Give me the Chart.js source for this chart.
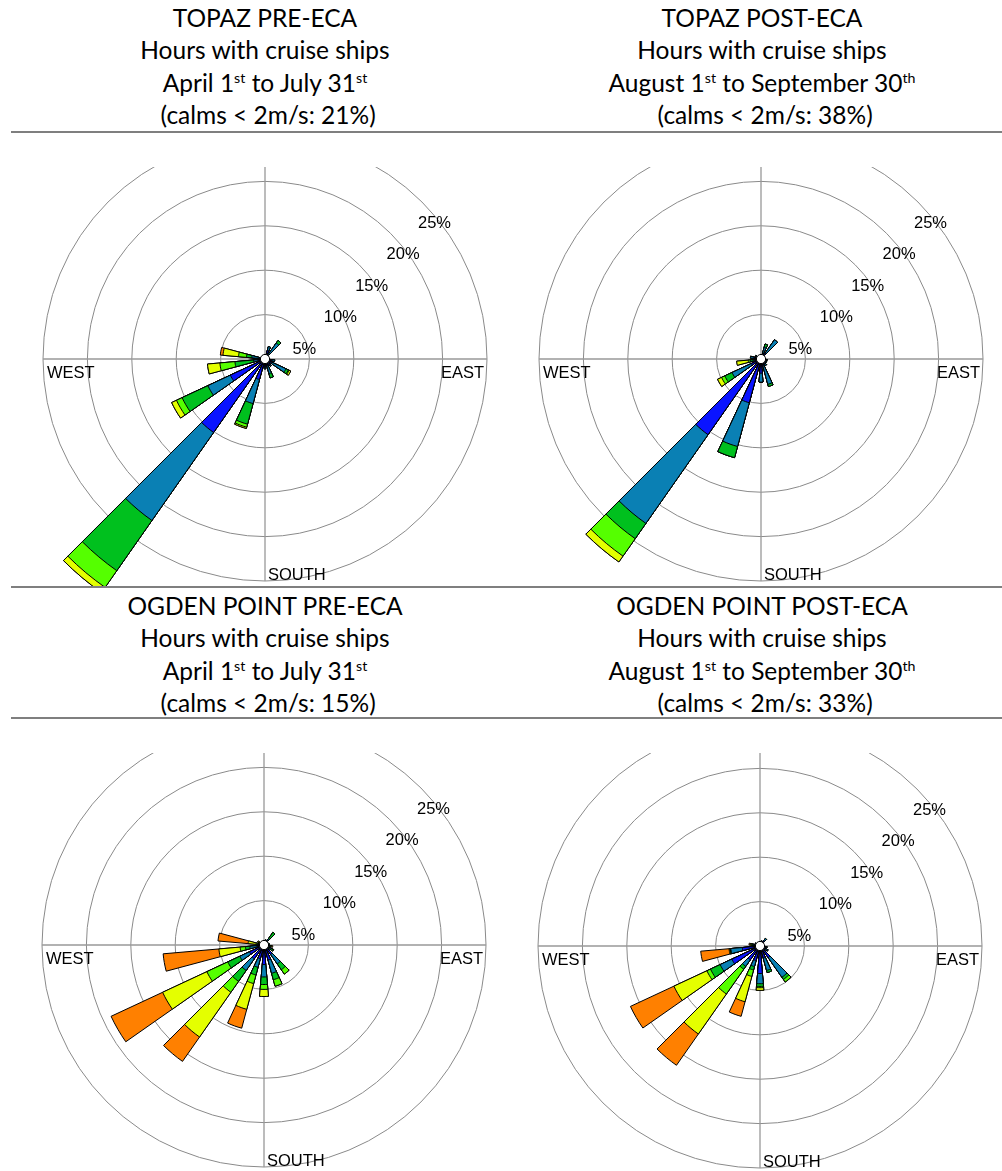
<!DOCTYPE html>
<html>
<head>
<meta charset="utf-8">
<title>Wind roses – Topaz and Ogden Point</title>
<script src="https://cdn.jsdelivr.net/npm/chart.js@4.4.1/dist/chart.umd.min.js"></script>
<style>
  html, body { margin: 0; padding: 0; background: #fff; }
  body { position: relative; width: 1002px; height: 1171px; overflow: hidden; }
  .title {
    position: absolute; width: 500px; text-align: center;
    font-family: Lato, "Open Sans", sans-serif; font-size: 24.5px; line-height: 32.3px; color: #000;
    white-space: nowrap;
  }
  .title sup { font-size: 58%; vertical-align: 0; position: relative; top: -0.62em; line-height: 0; }
  .rule { position: absolute; left: 11px; width: 991px; height: 2px; background: #7f7f7f; }
  .clip { position: absolute; width: 501px; overflow: hidden; }
  .clip canvas { position: absolute; }
</style>
</head>
<body>
<div id="page"></div>
<script>
// ---- wind directions (degrees, blowing from) ----
const directions = [0, 20, 40, 60, 80, 100, 120, 140, 160, 180, 200, 220, 240, 260, 280, 300, 320, 340];

// ---- ring values (%) and compass labels ----
const ringValues = [5, 10, 15, 20, 25];
const compassLabels = ['WEST', 'EAST', 'SOUTH'];

// ---- titles ----
const siteNames = ['TOPAZ PRE-ECA', 'TOPAZ POST-ECA', 'OGDEN POINT PRE-ECA', 'OGDEN POINT POST-ECA'];
const subTitle = 'Hours with cruise ships';
const periods = ['April 1<sup>st</sup> to July 31<sup>st</sup>',
                 'August 1<sup>st</sup> to September 30<sup>th</sup>',
                 'April 1<sup>st</sup> to July 31<sup>st</sup>',
                 'August 1<sup>st</sup> to September 30<sup>th</sup>'];
const calmsPct = [21, 38, 15, 33];

// ---- frequency (%) per wind-speed class, one row per class (lowest speed first),
//      one column per direction in `directions` ----
const topazPre = [
  [0, 1.0, 0.3, 0, 0, 0.8, 0.8, 0.8, 0.8, 0.9, 2.4, 10.1, 4.3, 0.8, 0.6, 0, 0, 0],
  [0, 0.45, 1.9, 0, 0, 0.3, 1.8, 0.2, 0.9, 0.2, 2.8, 12.1, 2.8, 0.5, 0.9, 0, 0, 0],
  [0, 0, 0.35, 0, 0, 0, 0.3, 0, 0.5, 0, 2.4, 6.9, 3.2, 2.1, 0.6, 0, 0, 0],
  [0, 0, 0, 0, 0, 0, 0.1, 0, 0, 0, 0.35, 2.3, 0.7, 1.7, 0.9, 0, 0, 0],
  [0, 0, 0, 0, 0, 0, 0.2, 0, 0, 0, 0.15, 0.7, 0.6, 1.4, 1.75, 0, 0, 0],
  [0, 0, 0, 0, 0, 0, 0, 0, 0, 0, 0, 0, 0, 0, 0.3, 0, 0, 0]
];
const topazPost = [
  [0, 0.5, 0.8, 0, 0, 0.5, 0.5, 0.6, 0.8, 1.6, 5.1, 10.4, 1.2, 0.5, 0.8, 0.5, 0, 0],
  [0, 0.9, 1.85, 0, 0, 0.2, 0.2, 0.3, 2.15, 1.0, 5.1, 12.2, 2.4, 0.4, 0.4, 0.2, 0, 0],
  [0, 0.35, 0, 0, 0, 0, 0, 0, 0.25, 0, 1.3, 2.1, 0.9, 0.3, 0, 0, 0, 0],
  [0, 0, 0, 0, 0, 0, 0, 0, 0, 0, 0, 2.4, 0.4, 0.25, 0, 0, 0, 0],
  [0, 0, 0, 0, 0, 0, 0, 0, 0, 0, 0, 0.8, 0.5, 1.3, 0, 0, 0, 0],
  [0, 0, 0, 0, 0, 0, 0, 0, 0, 0, 0, 0, 0, 0, 0, 0, 0, 0]
];
const ogdenPre = [
  [0, 0.3, 0.4, 0.3, 0.4, 0.4, 0.5, 1.3, 1.75, 2.2, 1.6, 1.9, 1.8, 0.8, 0.3, 0.3, 0, 0],
  [0, 0.3, 0.5, 0.2, 0.2, 0.2, 0.4, 1.3, 1.55, 1.4, 1.0, 1.6, 1.2, 0.8, 0.2, 0.2, 0, 0],
  [0, 0, 0.85, 0, 0, 0.1, 0.2, 0.8, 0.75, 0.85, 0.9, 1.5, 1.5, 0.5, 0.2, 0, 0, 0],
  [0, 0, 0, 0, 0, 0.1, 0.1, 0.6, 0.75, 0.55, 1.0, 1.5, 2.6, 0.6, 0.2, 0, 0, 0],
  [0, 0, 0, 0, 0, 0.1, 0, 0, 0, 0.8, 3.0, 6.15, 5.5, 2.4, 0.9, 0.3, 0, 0],
  [0, 0, 0, 0, 0, 0.1, 0, 0, 0, 0, 2.2, 3.35, 6.4, 6.3, 3.4, 0, 0, 0]
];
const ogdenPost = [
  [0, 0.4, 0.7, 0, 0, 0.5, 0.6, 1.6, 1.4, 3.1, 1.7, 1.9, 3.5, 2.0, 0.5, 0.4, 0, 0],
  [0, 0.2, 0.35, 0, 0, 0.3, 0.4, 2.7, 1.45, 1.15, 0.7, 0.9, 1.45, 1.3, 0.3, 0.2, 0, 0],
  [0, 0, 0, 0, 0, 0, 0, 0.3, 0.25, 0.3, 0.4, 0.4, 1.2, 0.05, 0.1, 0, 0, 0],
  [0, 0, 0, 0, 0, 0, 0, 0.35, 0, 0.15, 0.75, 3.4, 0.45, 0.05, 0.1, 0, 0, 0],
  [0, 0, 0, 0, 0, 0, 0, 0, 0, 0.3, 2.95, 5.5, 4.1, 0.1, 0.1, 0, 0, 0],
  [0, 0, 0, 0, 0, 0, 0, 0, 0, 0, 1.7, 4.3, 5.4, 3.2, 0.15, 0, 0, 0]
];

// ---- drawing styles ----
const classColours = ['#0a14ff', '#0a80b4', '#00c01e', '#55ff00', '#e4ff00', '#ff8000'];
const PETAL_DEG = 10;          // petal width; the remaining 10° of each sector is empty
const SCALE_MAX = 25;

// panel placement: rose centre in page pixels and clip window
const panels = [
  { rows: topazPre,  cx: 265, cy: 359, clipLeft: 0,   clipTop: 167, clipH: 419, titleX: 265, titleTop: 2 },
  { rows: topazPost, cx: 761, cy: 359, clipLeft: 501, clipTop: 167, clipH: 419, titleX: 762, titleTop: 2 },
  { rows: ogdenPre,  cx: 264, cy: 945, clipLeft: 0,   clipTop: 753, clipH: 418, titleX: 265, titleTop: 590 },
  { rows: ogdenPost, cx: 760, cy: 946, clipLeft: 501, clipTop: 753, clipH: 418, titleX: 762, titleTop: 590 }
];
const CANVAS = 700, PAD = 128;  // chart area of 444 px -> 25 % ring at r = 222 px

// stacks the class rows so every class is drawn out to its running total
function cumulativeRows(rows) {
  const totals = new Array(directions.length).fill(0);
  return rows.map(row => {
    row.forEach((v, i) => { totals[i] = Math.round((totals[i] + v) * 1000) / 1000; });
    return totals.slice();
  });
}

// petal / gap pairs: each direction is followed by an empty wedge
const wedgeLabels = directions.flatMap(d => [String(d), '']);
const wedgeData = values => values.flatMap(v => [v, 0]);

const roseFrame = {
  id: 'roseFrame',
  beforeDatasetsDraw(chart) {
    const s = chart.scales.r, ctx = chart.ctx;
    const cx = s.xCenter, cy = s.yCenter, R = s.getDistanceFromCenterForValue(SCALE_MAX);
    ctx.save();
    ctx.strokeStyle = '#999';
    ctx.lineWidth = 1.3;
    ctx.beginPath();
    ctx.moveTo(cx - R, cy); ctx.lineTo(cx + R, cy);
    ctx.moveTo(cx, cy - R); ctx.lineTo(cx, cy + R);
    ctx.stroke();

    ctx.fillStyle = '#000';
    ctx.font = '16.5px "Liberation Sans", Arial, sans-serif';
    ctx.textBaseline = 'alphabetic';
    ctx.textAlign = 'left';
    ringValues.forEach(v => {
      const r = s.getDistanceFromCenterForValue(v) * Math.SQRT1_2;
      ctx.fillText(v + '%', cx + r - 4, cy - r + 26);
    });
    ctx.fillText(compassLabels[0], cx - R + 4, cy + 18.5);
    ctx.textAlign = 'right';
    ctx.fillText(compassLabels[1], cx + R - 3, cy + 18.5);
    ctx.textAlign = 'left';
    ctx.fillText(compassLabels[2], cx + 3, cy + R - 1);
    ctx.restore();
  },
  afterDatasetsDraw(chart) {
    const s = chart.scales.r, ctx = chart.ctx;
    ctx.save();
    ctx.beginPath();
    ctx.arc(s.xCenter, s.yCenter, 4.6, 0, Math.PI * 2);
    ctx.fillStyle = '#fff';
    ctx.fill();
    ctx.lineWidth = 1;
    ctx.strokeStyle = '#000';
    ctx.stroke();
    ctx.restore();
  }
};

const page = document.getElementById('page');

panels.forEach((p, k) => {
  // title block
  const t = document.createElement('div');
  t.className = 'title';
  t.style.left = (p.titleX - 250) + 'px';
  t.style.top = p.titleTop + 'px';
  t.innerHTML = siteNames[k] + '<br>' + subTitle + '<br>' + periods[k] +
                '<br>&nbsp;(calms &lt; 2m/s: ' + calmsPct[k] + '%)';
  page.appendChild(t);

  // rose
  const clip = document.createElement('div');
  clip.className = 'clip';
  clip.style.left = p.clipLeft + 'px';
  clip.style.top = p.clipTop + 'px';
  clip.style.height = p.clipH + 'px';
  const cv = document.createElement('canvas');
  cv.width = CANVAS; cv.height = CANVAS;
  cv.style.width = CANVAS + 'px'; cv.style.height = CANVAS + 'px';
  cv.style.left = (p.cx - p.clipLeft - CANVAS / 2) + 'px';
  cv.style.top = (p.cy - p.clipTop - CANVAS / 2) + 'px';
  clip.appendChild(cv);
  page.appendChild(clip);

  const stacks = cumulativeRows(p.rows);
  new Chart(cv, {
    type: 'polarArea',
    data: {
      labels: wedgeLabels,
      datasets: stacks.map((vals, j) => ({
        data: wedgeData(vals),
        backgroundColor: classColours[j],
        borderColor: '#000',
        borderWidth: c => (c.raw > 0 ? 1 : 0),
        borderJoinStyle: 'miter',
        clip: false
      }))
    },
    options: {
      responsive: false,
      animation: false,
      events: [],
      layout: { padding: PAD },
      plugins: { legend: { display: false }, tooltip: { enabled: false } },
      scales: {
        r: {
          min: 0, max: SCALE_MAX,
          startAngle: -PETAL_DEG / 2,
          ticks: { display: false, stepSize: 5 },
          grid: { color: '#8a8a8a', lineWidth: 1, circular: true },
          angleLines: { display: false },
          pointLabels: { display: false }
        }
      }
    },
    plugins: [roseFrame]
  });
});

// horizontal rules between title blocks and roses
[131, 586, 717].forEach(y => {
  const r = document.createElement('div');
  r.className = 'rule';
  r.style.top = y + 'px';
  page.appendChild(r);
});
</script>
</body>
</html>
